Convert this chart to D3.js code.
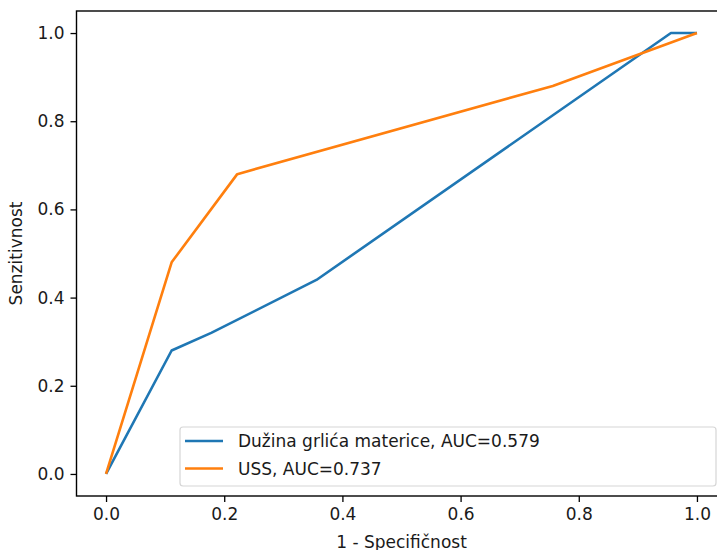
<!DOCTYPE html>
<html lang="en">
<head>
    <meta charset="UTF-8">
    <title>ROC</title>
    <script src="https://d3js.org/d3.v7.min.js"></script>
    <style>
        body { margin: 0; background: #fff; }
        text { font-family: "DejaVu Sans", sans-serif; fill: #1a1a1a; }
    </style>
</head>
<body>
<div id="chart"></div>
<script>
    // ROC points
    const fprCervix = [0, 0.111, 0.178, 0.356, 0.956, 1.0];
    const tprCervix = [0, 0.28, 0.32, 0.44, 1.0, 1.0];
    const fprUss = [0, 0.111, 0.222, 0.756, 1.0];
    const tprUss = [0, 0.48, 0.68, 0.88, 1.0];
    const seriesNames = ["Dužina grlića materice, AUC=0.579", "USS, AUC=0.737"];
    const seriesColors = ["#1f77b4", "#ff7f0e"];
    const tickValues = [0, 0.2, 0.4, 0.6, 0.8, 1.0];

    const width = 717, height = 550;
    const plotLeft = 76.5, plotRight = 726.5, plotTop = 11, plotBottom = 496;

    const svg = d3.select("#chart").append("svg")
        .attr("width", width)
        .attr("height", height);

    const x = d3.scaleLinear().domain([-0.05, 1.05]).range([plotLeft, plotRight]);
    const y = d3.scaleLinear().domain([-0.05, 1.05]).range([plotBottom, plotTop]);

    // axes
    const xAxis = d3.axisBottom(x).tickValues(tickValues)
        .tickFormat(d3.format(".1f")).tickSize(6).tickPadding(6);
    const yAxis = d3.axisLeft(y).tickValues(tickValues)
        .tickFormat(d3.format(".1f")).tickSize(6).tickPadding(6);

    const gx = svg.append("g").attr("transform", "translate(0," + plotBottom + ")").call(xAxis);
    const gy = svg.append("g").attr("transform", "translate(" + plotLeft + ",0)").call(yAxis);
    [gx, gy].forEach(function(g) {
        g.select(".domain").remove();
        g.selectAll(".tick line").attr("stroke", "#000").attr("stroke-width", 1.3);
        g.selectAll(".tick text").attr("fill", "#1a1a1a")
            .style("font-size", "17px").style("font-family", "DejaVu Sans, sans-serif");
    });

    // lines
    const line = d3.line()
        .x(function(d) { return x(d[0]); })
        .y(function(d) { return y(d[1]); });

    const series = [d3.zip(fprCervix, tprCervix), d3.zip(fprUss, tprUss)];
    series.forEach(function(s, i) {
        svg.append("path")
            .attr("d", line(s))
            .attr("fill", "none")
            .attr("stroke", seriesColors[i])
            .attr("stroke-width", 2.6)
            .attr("stroke-linejoin", "round");
    });

    // frame
    svg.append("rect")
        .attr("x", plotLeft).attr("y", plotTop)
        .attr("width", plotRight - plotLeft).attr("height", plotBottom - plotTop)
        .attr("fill", "none").attr("stroke", "#000").attr("stroke-width", 1.4);

    // axis titles
    svg.append("text")
        .attr("x", (x(0) + x(1)) / 2)
        .attr("y", 548)
        .attr("text-anchor", "middle")
        .style("font-size", "17px")
        .text("1 - Specifičnost");

    svg.append("text")
        .attr("transform", "translate(22," + ((y(0) + y(1)) / 2) + ") rotate(-90)")
        .attr("text-anchor", "middle")
        .style("font-size", "17px")
        .text("Senzitivnost");

    // legend
    const legend = svg.append("g");
    legend.append("rect")
        .attr("x", 180).attr("y", 427)
        .attr("width", 536).attr("height", 59)
        .attr("rx", 3)
        .attr("fill", "#fff").attr("fill-opacity", 0.8)
        .attr("stroke", "#d6d6d6").attr("stroke-width", 1.2);

    seriesNames.forEach(function(name, i) {
        const cy = 441 + i * 27.5;
        legend.append("line")
            .attr("x1", 185).attr("x2", 223)
            .attr("y1", cy).attr("y2", cy)
            .attr("stroke", seriesColors[i]).attr("stroke-width", 2.6);
        legend.append("text")
            .attr("x", 238).attr("y", cy + 6)
            .style("font-size", "17px")
            .text(name);
    });
</script>
</body>
</html>
